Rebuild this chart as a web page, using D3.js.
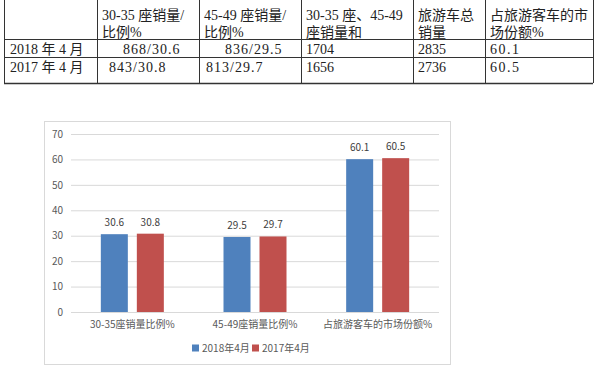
<!DOCTYPE html>
<html>
<head>
  <meta charset="utf-8">
  <title>旅游客车销量</title>
  <script src="https://cdn.jsdelivr.net/npm/d3@7"></script>
  <style>
    body { margin: 0; background: #fff; }
  </style>
</head>
<body>
<script>
  // 表格数据
  var headerLine1 = ["", "30-35 座销量/", "45-49 座销量/", "30-35 座、45-49", "旅游车总", "占旅游客车的市"];
  var headerLine2 = ["", "比例%", "比例%", "座销量和", "销量", "场份额%"];
  var row2018 = ["2018 年 4 月", "868/30.6", "836/29.5", "1704", "2835", "60.1"];
  var row2017 = ["2017 年 4 月", "843/30.8", "813/29.7", "1656", "2736", "60.5"];

  // 图表数据
  var categories = ["30-35座销量比例%", "45-49座销量比例%", "占旅游客车的市场份额%"];
  var seriesNames = ["2018年4月", "2017年4月"];
  var values2018 = [30.6, 29.5, 60.1];
  var values2017 = [30.8, 29.7, 60.5];
  var yTicks = [0, 10, 20, 30, 40, 50, 60, 70];

  var width = 600, height = 369;
  var svg = d3.select("body").append("svg").attr("width", width).attr("height", height);

  // ---- 表格 ----
  var colX = [4, 97, 199, 301, 413, 485, 593];
  var rowY = [0, 39, 57, 83];
  var tableFont = "'Liberation Serif', 'Noto Sans CJK SC', serif";
  // 行内缩进(原表用空格对齐)
  var indent2018 = [6, 26, 26, 5, 5, 5];
  var indent2017 = [6, 12, 7, 5, 5, 5];
  // 宋体半角符号较宽,用字距补一点
  var spacing = [0, 1, 1, 0, 0, 1.5];

  var tbl = svg.append("g").attr("stroke", "#333").attr("stroke-width", 1);
  rowY.slice(1).forEach(function(y, i) {
    tbl.append("line").attr("x1", colX[0]).attr("x2", colX[colX.length - 1])
      .attr("y1", y + 0.5).attr("y2", y + 0.5)
      .attr("stroke-width", i == 2 ? 1.5 : 1);
  });
  colX.forEach(function(x) {
    tbl.append("line").attr("x1", x + 0.5).attr("x2", x + 0.5)
      .attr("y1", rowY[0]).attr("y2", rowY[3]);
  });

  function cellText(arr, y, indents) {
    svg.append("g").selectAll("text").data(arr).join("text")
      .attr("x", function(d, i) { return colX[i] + (indents ? indents[i] : 5); })
      .attr("y", y)
      .attr("font-family", tableFont)
      .attr("font-size", 14)
      .attr("letter-spacing", function(d, i) { return indents ? spacing[i] : 0; })
      .attr("fill", "#222")
      .text(function(d) { return d; });
  }
  cellText(headerLine1, 20, null);
  cellText(headerLine2, 37, null);
  cellText(row2018, 54, indent2018);
  cellText(row2017, 72, indent2017);

  // ---- 柱状图 ----
  var chartFont = "'Noto Sans CJK SC', 'Noto Sans', sans-serif";
  svg.append("rect").attr("x", 44.5).attr("y", 121.5).attr("width", 406).attr("height", 243)
    .attr("fill", "#fff").attr("stroke", "#D9D9D9");

  var plot = { left: 71, right: 439, top: 134, bottom: 312 };
  var x = d3.scaleBand().domain(categories).range([plot.left, plot.right]);
  var y = d3.scaleLinear().domain([0, 70]).range([plot.bottom, plot.top]);

  var yAxis = d3.axisLeft(y).tickValues(yTicks).tickSize(-(plot.right - plot.left)).tickPadding(8);
  var gy = svg.append("g").attr("transform", "translate(" + plot.left + ",0)").call(yAxis);
  gy.select(".domain").remove();
  gy.selectAll(".tick line").attr("stroke", "#D9D9D9");
  gy.selectAll(".tick text").attr("fill", "#595959").attr("font-size", 10).attr("font-family", chartFont);

  var xAxis = d3.axisBottom(x).tickSize(0).tickPadding(9);
  var gx = svg.append("g").attr("transform", "translate(0," + plot.bottom + ")").call(xAxis);
  gx.select(".domain").remove();
  gx.selectAll(".tick text").attr("fill", "#595959").attr("font-size", 10).attr("font-family", chartFont);

  var colors = ["#4F81BD", "#C0504D"];
  var series = [values2018, values2017];
  var barW = 27, barGap = 9;

  series.forEach(function(vals, s) {
    var offset = s == 0 ? -(barW + barGap / 2) : barGap / 2;
    var g = svg.append("g");
    g.selectAll("rect").data(vals).join("rect")
      .attr("x", function(d, i) { return x(categories[i]) + x.bandwidth() / 2 + offset; })
      .attr("y", function(d) { return y(d); })
      .attr("width", barW)
      .attr("height", function(d) { return plot.bottom - y(d); })
      .attr("fill", colors[s]);
    g.selectAll("text").data(vals).join("text")
      .attr("x", function(d, i) { return x(categories[i]) + x.bandwidth() / 2 + offset + barW / 2; })
      .attr("y", function(d) { return y(d) - 8; })
      .attr("text-anchor", "middle")
      .attr("fill", "#404040")
      .attr("font-size", 10)
      .attr("font-family", chartFont)
      .text(function(d) { return d.toFixed(1); });
  });

  // 图例
  var legendX = [192, 252];
  var lg = svg.append("g").selectAll("g").data(seriesNames).join("g")
    .attr("transform", function(d, i) { return "translate(" + legendX[i] + ",348)"; });
  lg.append("rect").attr("x", 0).attr("y", -3.5).attr("width", 7).attr("height", 7)
    .attr("fill", function(d, i) { return colors[i]; });
  lg.append("text").attr("x", 10).attr("y", 3.5)
    .attr("fill", "#595959").attr("font-size", 10).attr("font-family", chartFont)
    .text(function(d) { return d; });
</script>
</body>
</html>
